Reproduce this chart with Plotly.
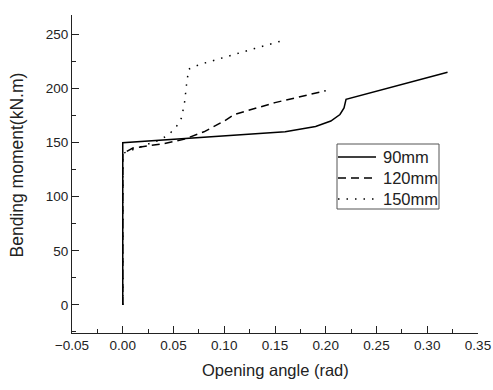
import plotly.graph_objects as go

x90 = [0, 0, 0.16, 0.19, 0.205, 0.214, 0.218, 0.22, 0.32]
y90 = [0, 150, 160, 165, 170, 176, 182, 190, 215]

x120 = [0, 0, 0.01, 0.04, 0.06, 0.08, 0.1, 0.11, 0.15, 0.2]
y120 = [0, 140, 145, 149, 153, 160, 170, 176, 187, 198]

x150 = [0, 0, 0.02, 0.035, 0.045, 0.053, 0.058, 0.061, 0.063, 0.065, 0.075, 0.1, 0.13, 0.16]
y150 = [0, 140, 147, 152, 157, 165, 173, 188, 205, 218, 222, 229, 237, 245]

names = ["90mm", "120mm", "150mm"]
dashes = ["solid", "8px,5px", "1.5px,7px"]

font = "Liberation Sans, Arial, sans-serif"

# plot area in pixels (for placing the hand-drawn legend box)
L, R, T, B = 72, 478, 15, 333
def px(xp): return (xp - L) / (R - L)
def py(yp): return (B - yp) / (B - T)

fig = go.Figure()
for xs, ys, n, d in zip([x90, x120, x150], [y90, y120, y150], names, dashes):
    fig.add_trace(go.Scatter(x=xs, y=ys, mode="lines", name=n, showlegend=False,
                             line=dict(color="black", width=1.5, dash=d)))

shapes = [dict(type="rect", xref="paper", yref="paper",
               x0=px(337), x1=px(439), y0=py(209), y1=py(144),
               line=dict(color="#555", width=1), fillcolor="white", layer="above")]
annotations = []
row_y = [157, 178, 199]
for n, d, ry in zip(names, dashes, row_y):
    shapes.append(dict(type="line", xref="paper", yref="paper",
                       x0=px(338), x1=px(376), y0=py(ry), y1=py(ry),
                       line=dict(color="black", width=1.5, dash=d), layer="above"))
    annotations.append(dict(text=n, xref="paper", yref="paper", x=px(381), y=py(ry),
                            xanchor="left", yanchor="middle", showarrow=False,
                            font=dict(size=16.5, family=font, color="#222")))

annotations += [
    dict(text="Opening angle (rad)", xref="paper", yref="paper",
         x=0.5, y=py(370), xanchor="center", yanchor="middle",
         showarrow=False, font=dict(size=16.5, family=font, color="#222")),
    dict(text="Bending moment(kN.m)", xref="paper", yref="paper",
         x=px(16.5), y=py(165), xanchor="center", yanchor="middle", textangle=-90,
         showarrow=False, font=dict(size=17.5, family=font, color="#222")),
]

fig.update_layout(
    width=493, height=390,
    margin=dict(l=L, r=493 - R, t=T, b=390 - B, autoexpand=False),
    paper_bgcolor="white", plot_bgcolor="white",
    font=dict(family=font, color="#222", size=13.5),
    showlegend=False,
    xaxis=dict(range=[-0.05, 0.35], dtick=0.05, tick0=0, tickformat=".2f",
               automargin=False,
               showgrid=False, zeroline=False, showline=True, linecolor="#222",
               linewidth=1.2, ticks="inside", ticklen=7, tickcolor="#222",
               minor=dict(ticks="inside", ticklen=4, dtick=0.025, tickcolor="#222"),
               tickfont=dict(size=13.5)),
    yaxis=dict(range=[-26, 268], dtick=50, tick0=0, automargin=False,
               showgrid=False, zeroline=False, showline=True, linecolor="#222",
               linewidth=1.2, ticks="inside", ticklen=7, tickcolor="#222",
               minor=dict(ticks="inside", ticklen=4, dtick=25, tickcolor="#222"),
               tickfont=dict(size=13.5)),
    shapes=shapes,
    annotations=annotations,
)
fig.write_html("out.html")
